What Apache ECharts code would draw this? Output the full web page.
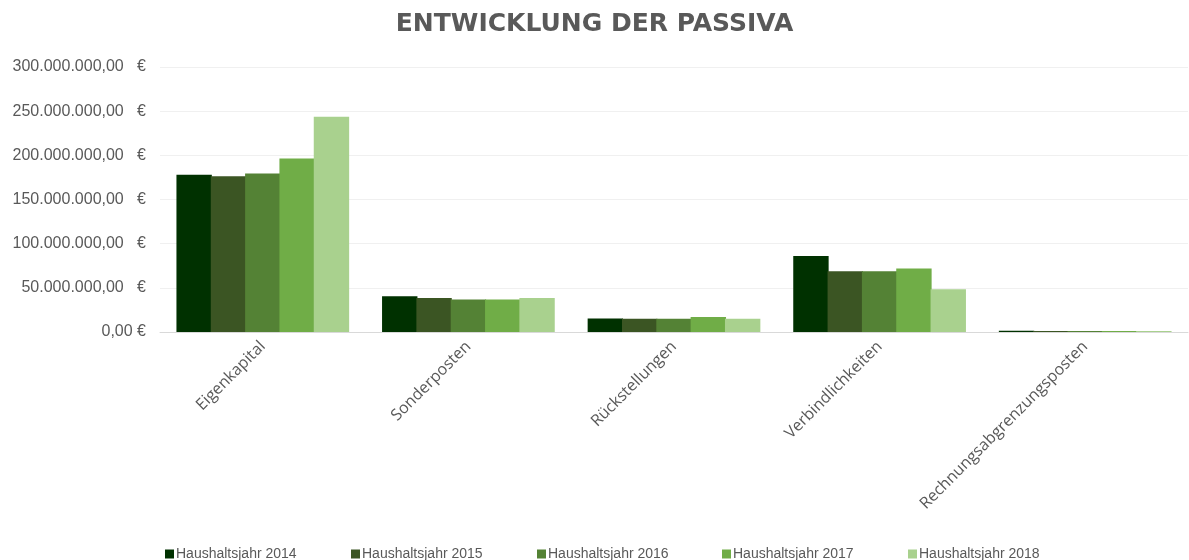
<!DOCTYPE html>
<html><head><meta charset="utf-8">
<script src="https://cdn.jsdelivr.net/npm/echarts@6/dist/echarts.min.js"></script>
<style>html,body{margin:0;padding:0;background:#fff}#c{width:1189px;height:560px}</style>
</head><body><div id="c"></div>
<script>
const categories = ['Eigenkapital','Sonderposten','Rückstellungen','Verbindlichkeiten','Rechnungsabgrenzungsposten'];
const seriesNames = ['Haushaltsjahr 2014','Haushaltsjahr 2015','Haushaltsjahr 2016','Haushaltsjahr 2017','Haushaltsjahr 2018'];
const v2014 = [178000000, 40500000, 15200000, 86000000, 1500000];
const v2015 = [176200000, 38500000, 15000000, 68800000, 1200000];
const v2016 = [179500000, 36700000, 15000000, 68800000, 1000000];
const v2017 = [196500000, 36700000, 17000000, 72000000, 1000000];
const v2018 = [243800000, 38500000, 15000000, 48300000, 1000000];
const colors = ['#003100','#3b5523','#548235','#70ad47','#a9d18e'];
const allValues = [v2014, v2015, v2016, v2017, v2018];

function fmt(v){
  const s = v.toLocaleString('de-DE',{minimumFractionDigits:2, maximumFractionDigits:2});
  return v === 0 ? s + ' €' : s + '   €';
}

const legendLeft = [160, 346, 532, 717, 903];

const chart = echarts.init(document.getElementById('c'));
chart.setOption({
  animation:false,
  color: colors,
  title:{text:'ENTWICKLUNG DER PASSIVA', left:'center', top:7,
    textStyle:{fontFamily:'DejaVu Sans', fontWeight:'bold', fontSize:25, color:'#595959'}},
  grid:{left:160, right:1, top:67, bottom:228},
  legend: seriesNames.map((n,i)=>({data:[n], top:542, left:legendLeft[i], itemWidth:9, itemHeight:9, icon:'rect',
    textStyle:{fontFamily:'Liberation Sans, sans-serif', fontSize:14, color:'#595959', padding:[0,0,0,-3]}})),
  xAxis:{type:'category', data:categories,
    axisLine:{lineStyle:{color:'#d9d9d9', width:1}},
    axisTick:{show:false},
    axisLabel:{rotate:45, fontFamily:'Open Sans', fontSize:16, color:'#595959', margin:12, interval:0}},
  yAxis:{type:'value', min:0, max:300000000, interval:50000000,
    axisLine:{show:false}, axisTick:{show:false},
    splitLine:{lineStyle:{color:'#f0f0f0'}},
    axisLabel:{formatter:fmt, fontFamily:'Liberation Sans, sans-serif', fontSize:16, color:'#595959', margin:14}},
  series: seriesNames.map((n,i)=>({name:n, type:'bar', data:allValues[i],
    barGap:'-3%', barCategoryGap:'16%'}))
});
</script></body></html>
